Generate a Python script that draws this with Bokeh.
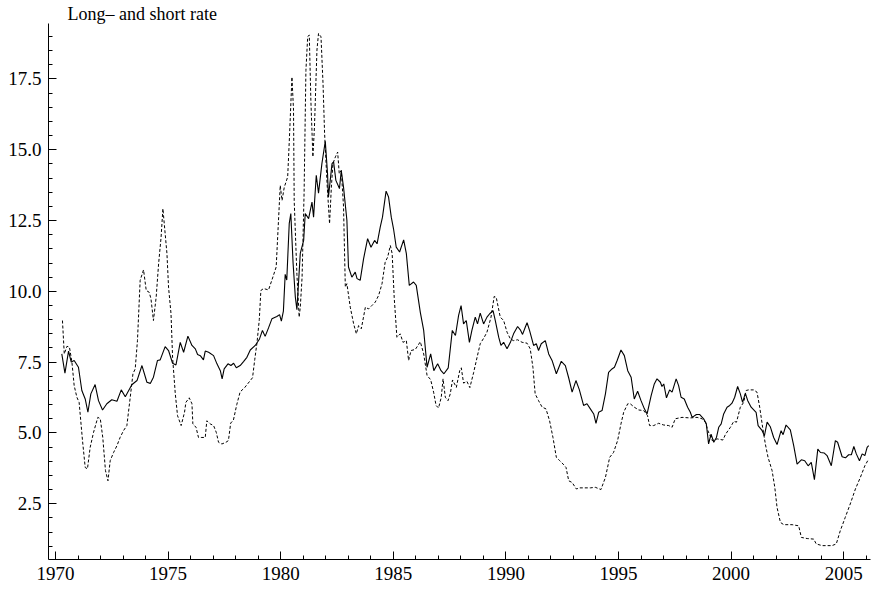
from bokeh.plotting import figure
from bokeh.models import Range1d, FixedTicker, NumeralTickFormatter, Title
from bokeh.embed import file_html
from bokeh.resources import INLINE

title_text = "Long\u2013 and short rate"

long_t = [1970.28, 1970.42, 1970.58, 1970.70, 1970.83, 1971.02, 1971.17, 1971.32, 1971.44, 1971.57,
          1971.76, 1971.91, 1972.09, 1972.28, 1972.50, 1972.73, 1972.92, 1973.10, 1973.39, 1973.62,
          1973.84, 1974.06, 1974.21, 1974.35, 1974.53, 1974.65, 1974.87, 1975.02, 1975.20, 1975.35,
          1975.54, 1975.69, 1975.88, 1976.06, 1976.21, 1976.31, 1976.43, 1976.57, 1976.65, 1976.80,
          1977.02, 1977.17, 1977.32, 1977.40, 1977.49, 1977.66, 1977.79, 1977.91, 1978.03, 1978.20,
          1978.35, 1978.50, 1978.65, 1978.87, 1979.06, 1979.19, 1979.31, 1979.46, 1979.61, 1979.83,
          1979.95, 1980.03, 1980.12, 1980.20, 1980.27, 1980.38, 1980.45, 1980.55, 1980.65, 1980.72,
          1980.87, 1981.02, 1981.09, 1981.24, 1981.39, 1981.46, 1981.58, 1981.68, 1981.83, 1981.98,
          1982.08, 1982.12, 1982.28, 1982.35, 1982.45, 1982.61, 1982.69, 1982.79, 1982.94, 1983.01,
          1983.16, 1983.31, 1983.39, 1983.53, 1983.68, 1983.86, 1984.01, 1984.17, 1984.28, 1984.42,
          1984.52, 1984.68, 1984.79, 1984.91, 1985.01, 1985.13, 1985.28, 1985.46, 1985.58, 1985.71,
          1985.90, 1986.02, 1986.12, 1986.20, 1986.35, 1986.50, 1986.66, 1986.80, 1986.97, 1987.12,
          1987.25, 1987.44, 1987.62, 1987.76, 1987.90, 1988.01, 1988.12, 1988.24, 1988.38, 1988.49,
          1988.64, 1988.74, 1988.86, 1989.01, 1989.16, 1989.28, 1989.43, 1989.53, 1989.68, 1989.78,
          1989.90, 1990.05, 1990.20, 1990.34, 1990.52, 1990.64, 1990.74, 1990.86, 1990.94, 1991.05,
          1991.23, 1991.35, 1991.45, 1991.57, 1991.75, 1991.90, 1992.05, 1992.24, 1992.46, 1992.64,
          1992.79, 1992.94, 1993.11, 1993.26, 1993.45, 1993.60, 1993.75, 1993.90, 1994.00, 1994.12,
          1994.27, 1994.42, 1994.56, 1994.71, 1994.82, 1994.94, 1995.11, 1995.26, 1995.41, 1995.56,
          1995.70, 1995.85, 1996.00, 1996.15, 1996.27, 1996.45, 1996.59, 1996.71, 1996.86, 1996.93,
          1997.01, 1997.13, 1997.27, 1997.38, 1997.56, 1997.67, 1997.78, 1997.92, 1998.07, 1998.19,
          1998.27, 1998.46, 1998.61, 1998.78, 1998.90, 1999.00, 1999.11, 1999.23, 1999.35, 1999.45,
          1999.56, 1999.67, 1999.82, 1999.94, 2000.04, 2000.16, 2000.29, 2000.41, 2000.51, 2000.63,
          2000.74, 2000.89, 2001.11, 2001.20, 2001.38, 2001.48, 2001.60, 2001.74, 2001.89, 2002.04,
          2002.22, 2002.31, 2002.44, 2002.63, 2002.78, 2002.93, 2003.12, 2003.27, 2003.42, 2003.56,
          2003.70, 2003.85, 2003.97, 2004.14, 2004.26, 2004.45, 2004.63, 2004.73, 2004.93, 2005.08,
          2005.22, 2005.34, 2005.45, 2005.56, 2005.70, 2005.82, 2005.94, 2006.04, 2006.11]
long_v = [7.79, 7.11, 7.89, 7.50, 7.56, 7.32, 6.50, 6.20, 5.73, 6.38,
          6.71, 6.14, 5.81, 6.03, 6.17, 6.12, 6.52, 6.28, 6.70, 6.85,
          7.38, 6.79, 6.75, 6.97, 7.56, 7.58, 8.05, 7.91, 7.46, 7.40,
          8.20, 7.85, 8.42, 8.09, 7.97, 7.77, 7.73, 7.58, 7.89, 7.85,
          7.73, 7.44, 7.20, 6.91, 7.26, 7.44, 7.38, 7.46, 7.30, 7.38,
          7.52, 7.67, 7.93, 8.09, 8.32, 8.62, 8.41, 8.71, 9.03, 9.11,
          9.18, 8.95, 9.30, 10.60, 10.40, 12.40, 12.75, 11.00, 9.80, 9.35,
          11.34, 11.80, 12.75, 12.57, 13.15, 12.62, 14.10, 13.47, 14.51, 15.30,
          14.16, 13.33, 14.51, 14.57, 13.92, 13.63, 14.27, 13.68, 12.51, 10.86,
          10.50, 10.68, 10.45, 10.39, 11.15, 11.86, 11.56, 11.80, 11.68, 12.27,
          12.62, 13.54, 13.33, 12.62, 12.21, 11.56, 11.39, 11.82, 11.33, 10.21,
          10.33, 10.21, 9.68, 9.26, 8.62, 7.32, 7.79, 7.20, 7.44, 7.20,
          7.09, 7.30, 8.62, 8.44, 9.15, 9.50, 8.85, 8.97, 8.20, 8.62,
          9.09, 8.85, 9.23, 8.85, 9.09, 9.21, 9.32, 8.97, 8.38, 8.09,
          8.20, 7.97, 8.20, 8.50, 8.76, 8.64, 8.48, 8.73, 8.89, 8.62,
          8.09, 8.15, 7.91, 8.15, 8.26, 7.79, 7.56, 7.09, 7.53, 7.38,
          6.94, 6.44, 6.85, 6.53, 5.97, 6.03, 5.85, 5.67, 5.34, 5.73,
          5.79, 6.38, 7.14, 7.26, 7.32, 7.56, 7.93, 7.73, 7.20, 6.97,
          6.20, 6.47, 6.14, 5.85, 5.67, 6.32, 6.73, 6.91, 6.79, 6.64,
          6.73, 6.24, 6.52, 6.44, 6.91, 6.67, 6.26, 6.20, 5.91, 5.73,
          5.55, 5.65, 5.65, 5.50, 5.32, 4.61, 4.96, 4.67, 4.84, 5.20,
          5.32, 5.67, 5.91, 5.97, 6.05, 6.26, 6.64, 6.38, 6.08, 6.40,
          6.14, 5.91, 5.73, 5.26, 5.08, 4.90, 5.38, 5.22, 4.84, 4.59,
          5.08, 4.94, 5.28, 5.11, 4.55, 3.90, 4.05, 4.02, 3.84, 3.96,
          3.35, 4.43, 4.31, 4.29, 4.20, 3.84, 4.73, 4.67, 4.16, 4.12,
          4.23, 4.23, 4.52, 4.26, 4.02, 4.26, 4.20, 4.49, 4.55]

short_t = [1970.31, 1970.39, 1970.51, 1970.62, 1970.73, 1970.83, 1970.95, 1971.05, 1971.20, 1971.32,
           1971.42, 1971.54, 1971.69, 1971.88, 1971.99, 1972.10, 1972.22, 1972.33, 1972.43, 1972.58,
           1972.73, 1972.87, 1973.02, 1973.17, 1973.32, 1973.44, 1973.54, 1973.64, 1973.76, 1973.91,
           1974.03, 1974.16, 1974.24, 1974.35, 1974.47, 1974.58, 1974.69, 1974.77, 1974.87, 1974.95,
           1975.02, 1975.13, 1975.20, 1975.32, 1975.42, 1975.58, 1975.73, 1975.79, 1975.94, 1976.06,
           1976.10, 1976.24, 1976.35, 1976.50, 1976.65, 1976.72, 1976.87, 1977.02, 1977.14, 1977.24,
           1977.39, 1977.57, 1977.68, 1977.78, 1977.90, 1978.05, 1978.20, 1978.40, 1978.60, 1978.75,
           1978.85, 1978.95, 1979.05, 1979.12, 1979.24, 1979.46, 1979.61, 1979.80, 1979.98, 1980.06,
           1980.16, 1980.31, 1980.39, 1980.50, 1980.57, 1980.60, 1980.72, 1980.82, 1980.87, 1980.95,
           1981.04, 1981.12, 1981.20, 1981.27, 1981.34, 1981.43, 1981.50, 1981.61, 1981.68, 1981.79,
           1981.88, 1981.95, 1982.06, 1982.17, 1982.25, 1982.32, 1982.43, 1982.53, 1982.60, 1982.69,
           1982.79, 1982.87, 1982.94, 1983.09, 1983.24, 1983.36, 1983.46, 1983.58, 1983.76, 1983.90,
           1984.05, 1984.20, 1984.35, 1984.50, 1984.64, 1984.75, 1984.87, 1984.95, 1985.04, 1985.16,
           1985.31, 1985.43, 1985.58, 1985.68, 1985.79, 1985.98, 1986.20, 1986.35, 1986.50, 1986.66,
           1986.79, 1986.90, 1987.01, 1987.13, 1987.21, 1987.31, 1987.43, 1987.53, 1987.63, 1987.80,
           1987.95, 1988.02, 1988.12, 1988.27, 1988.40, 1988.57, 1988.72, 1988.86, 1989.04, 1989.16,
           1989.34, 1989.48, 1989.57, 1989.75, 1989.90, 1990.05, 1990.20, 1990.34, 1990.52, 1990.72,
           1990.94, 1991.08, 1991.20, 1991.30, 1991.45, 1991.61, 1991.78, 1991.94, 1992.09, 1992.24,
           1992.39, 1992.54, 1992.67, 1992.79, 1992.94, 1993.13, 1993.27, 1993.45, 1993.75, 1993.97,
           1994.22, 1994.42, 1994.61, 1994.78, 1994.96, 1995.11, 1995.23, 1995.41, 1995.52, 1995.70,
           1995.90, 1996.12, 1996.29, 1996.38, 1996.56, 1996.78, 1997.01, 1997.23, 1997.38, 1997.52,
           1997.82, 1998.19, 1998.49, 1998.71, 1998.86, 1998.97, 1999.16, 1999.38, 1999.64, 1999.75,
           1999.97, 2000.12, 2000.24, 2000.41, 2000.56, 2000.67, 2000.78, 2001.00, 2001.15, 2001.27,
           2001.40, 2001.52, 2001.64, 2001.82, 2001.94, 2002.04, 2002.19, 2002.34, 2002.71, 2003.00,
           2003.12, 2003.38, 2003.67, 2003.78, 2004.04, 2004.48, 2004.67, 2004.85, 2005.07, 2005.29,
           2005.52, 2005.74, 2005.94, 2006.11]
short_v = [8.97, 7.79, 8.06, 8.03, 7.50, 6.67, 6.26, 6.08, 4.73, 3.78,
           3.73, 4.49, 5.02, 5.55, 5.50, 4.84, 3.67, 3.31, 4.02, 4.31,
           4.55, 4.84, 5.08, 5.26, 6.26, 7.09, 7.26, 8.26, 10.39, 10.76,
           10.03, 9.97, 9.74, 8.97, 9.79, 10.98, 11.92, 12.92, 12.04, 11.33,
           10.15, 9.21, 7.67, 6.38, 5.61, 5.26, 5.73, 6.08, 6.24, 6.03,
           5.32, 5.20, 4.84, 4.84, 4.84, 5.43, 5.32, 5.26, 5.02, 4.67,
           4.61, 4.67, 4.73, 5.35, 5.45, 6.00, 6.45, 6.60, 6.80, 6.95,
           7.60, 8.20, 9.00, 10.03, 10.10, 10.05, 10.40, 10.86, 13.74, 13.21,
           13.68, 14.04, 15.45, 17.57, 16.40, 13.20, 10.60, 9.09, 9.44, 10.50,
           13.50, 17.80, 19.00, 19.05, 16.75, 14.75, 15.81, 18.52, 19.11, 18.99,
           17.34, 15.57, 13.80, 12.39, 13.68, 14.51, 14.75, 14.92, 14.16, 14.27,
           13.00, 10.15, 10.27, 9.44, 8.85, 8.50, 8.79, 8.68, 9.44, 9.38,
           9.50, 9.62, 9.86, 10.27, 11.03, 11.21, 11.62, 11.33, 9.79, 8.38,
           8.50, 8.20, 8.26, 7.56, 7.91, 7.95, 8.22, 7.79, 7.03, 6.88,
           6.44, 5.97, 5.88, 6.26, 6.91, 6.26, 6.14, 6.38, 6.87, 6.61,
           7.20, 7.30, 6.76, 6.82, 6.60, 7.14, 7.67, 8.15, 8.38, 8.56,
           9.09, 9.82, 9.79, 9.09, 8.97, 8.56, 8.32, 8.26, 8.29, 8.20,
           8.17, 7.97, 7.32, 6.38, 6.14, 5.91, 5.85, 5.43, 4.84, 4.14,
           4.02, 3.90, 3.78, 3.31, 3.25, 3.02, 3.06, 3.06, 3.06, 3.08,
           3.00, 3.43, 4.14, 4.31, 4.73, 5.32, 5.73, 6.03, 6.03, 5.91,
           5.81, 5.79, 5.61, 5.26, 5.26, 5.34, 5.28, 5.26, 5.20, 5.50,
           5.55, 5.53, 5.55, 5.50, 5.38, 5.08, 4.73, 4.79, 4.75, 4.95,
           5.20, 5.41, 5.38, 5.91, 6.08, 6.50, 6.52, 6.52, 6.44, 5.91,
           5.20, 4.61, 4.14, 3.67, 3.08, 2.37, 1.84, 1.76, 1.76, 1.72,
           1.31, 1.27, 1.25, 1.08, 1.02, 1.02, 1.08, 1.55, 2.02, 2.49,
           3.02, 3.43, 3.84, 4.08]

x_major = [1970, 1975, 1980, 1985, 1990, 1995, 2000, 2005]
x_minor = list(range(1970, 2007))
y_major = [2.5, 5.0, 7.5, 10.0, 12.5, 15.0, 17.5]
y_minor = [0.5 * i for i in range(2, 39)]

FONT = "Liberation Serif"

p = figure(width=872, height=588, output_backend="svg", toolbar_location=None,
           x_range=Range1d(1969.69, 2006.19), y_range=Range1d(0.53, 19.46),
           min_border_left=48, min_border_right=2, min_border_top=23, min_border_bottom=29)
p.title = Title(text=title_text, align="left", offset=19, standoff=0,
                text_font=FONT, text_font_size="18px", text_font_style="normal",
                text_color="black")
p.outline_line_color = None
p.xgrid.visible = False
p.ygrid.visible = False
p.background_fill_color = "white"
p.border_fill_color = "white"

p.line(long_t, long_v, line_color="black", line_width=1.1)
p.line(short_t, short_v, line_color="black", line_width=1.0, line_dash="3 2")

for ax in (p.xaxis[0], p.yaxis[0]):
    ax.axis_line_color = "black"
    ax.axis_line_width = 1
    ax.major_tick_line_color = "black"
    ax.minor_tick_line_color = "black"
    ax.major_tick_out = 0
    ax.minor_tick_out = 0
    ax.major_tick_in = 8
    ax.minor_tick_in = 4
    ax.major_label_text_font = FONT
    ax.major_label_text_font_size = "19px"
    ax.major_label_text_color = "black"

p.xaxis[0].ticker = FixedTicker(ticks=x_major, minor_ticks=x_minor)
p.yaxis[0].ticker = FixedTicker(ticks=y_major, minor_ticks=y_minor)
p.yaxis[0].formatter = NumeralTickFormatter(format="0.0")
p.xaxis[0].major_label_standoff = 7
p.yaxis[0].major_label_standoff = 7

open("out.html", "w").write(file_html(p, INLINE))
